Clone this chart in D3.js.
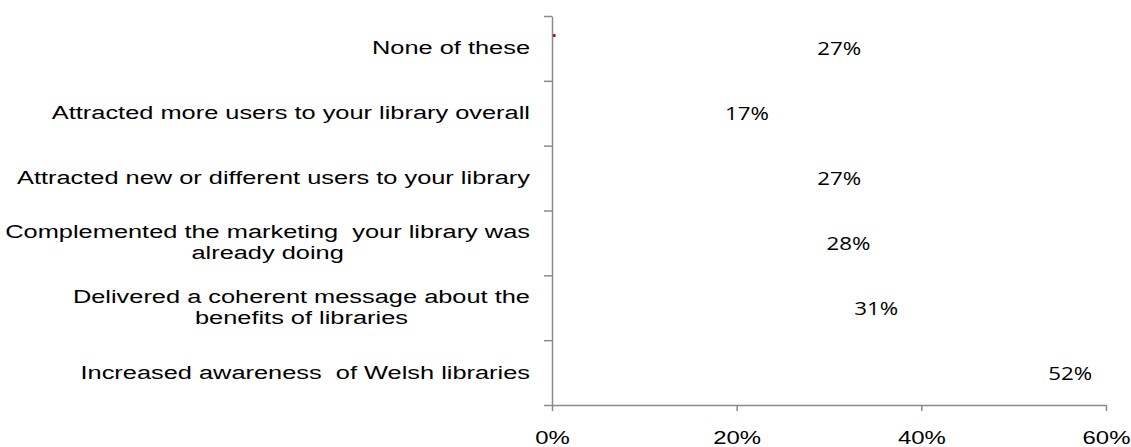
<!DOCTYPE html>
<html>
<head>
<meta charset="utf-8">
<script src="https://cdn.jsdelivr.net/npm/d3@7"></script>
<style>
  body { margin: 0; background: #fff; }
  svg { display: block; }
</style>
</head>
<body>
<div id="chart"></div>
<script>
// Categories top to bottom, each one may hold two lines
var categories = [
  ["None of these"],
  ["Attracted more users to your library overall"],
  ["Attracted new or different users to your library"],
  ["Complemented the marketing  your library was", "already doing"],
  ["Delivered a coherent message about the", "benefits of libraries"],
  ["Increased awareness  of Welsh libraries"]
];
var values = [27, 17, 27, 28, 31, 52];
var xTicks = [0, 20, 40, 60];

var width = 1131, height = 447;
// plot edges (note: "top" is taken by window.top, so use plot* names)
var plotLeft = 552, plotRight = 1106, plotTop = 16, plotBottom = 405;
var stretch = 1.41;   // text in the source is drawn wider than normal

var svg = d3.select("#chart").append("svg")
    .attr("width", width)
    .attr("height", height);

var x = d3.scaleLinear().domain([0, 60]).range([plotLeft, plotRight]);
var y = d3.scaleBand().domain(d3.range(categories.length)).range([plotTop, plotBottom]).padding(0);
// linear helper so the y axis ticks land on band edges
var yEdge = d3.scaleLinear().domain([0, categories.length]).range([plotBottom, plotTop]);

// bars (drawn without fill, as in the source)
svg.append("g").selectAll("rect")
  .data(values)
  .enter()
  .append("rect")
    .attr("x", x(0))
    .attr("y", function(d, i) { return y(i) + y.bandwidth() * 0.2; })
    .attr("width", function(d) { return x(d) - x(0); })
    .attr("height", y.bandwidth() * 0.6)
    .style("fill", "#ffffff")
    .style("fill-opacity", 0);

// small red mark near the top of the axis
svg.append("rect")
    .attr("x", x(0) + 1)
    .attr("y", y(0) + 18)
    .attr("width", 2.5)
    .attr("height", 3)
    .style("fill", "#c00000");

// y axis, ticks on the band edges
var yAxis = svg.append("g")
    .attr("transform", "translate(" + plotLeft + ",0)")
    .call(d3.axisLeft(yEdge).ticks(categories.length).tickSize(8).tickSizeOuter(0).tickFormat(""));

// x axis
var xAxis = svg.append("g")
    .attr("transform", "translate(0," + plotBottom + ")")
    .call(d3.axisBottom(x).tickValues(xTicks).tickSize(6).tickSizeOuter(0)
      .tickFormat(function(d) { return d + "%"; }));

[yAxis, xAxis].forEach(function(a) {
  a.select(".domain").style("stroke", "#8a8a8a").style("stroke-width", 1.5);
  a.selectAll(".tick line").style("stroke", "#8a8a8a").style("stroke-width", 1.5);
});

xAxis.selectAll(".tick text")
    .attr("y", 0)
    .attr("dy", 0)
    .attr("transform", "translate(0,39) scale(1.33,1)")
    .style("font-family", "'Liberation Sans', Arial, sans-serif")
    .style("font-size", "18px")
    .style("fill", "#000");

// category labels, right aligned block, lines centred on each other
var labelRight = 530, lineH = 21;
var cats = svg.append("g").selectAll("g")
  .data(categories)
  .enter()
  .append("g")
    .attr("transform", function(d, i) {
      return "translate(0," + (y(i) + y.bandwidth() / 2) + ")";
    });

cats.each(function(lines) {
  var g = d3.select(this);
  var inner = g.append("g");
  var t = inner.selectAll("text")
    .data(lines)
    .enter()
    .append("text")
      .attr("y", function(d, j) { return (j - (lines.length - 1) / 2) * lineH + 6; })
      .attr("text-anchor", "middle")
      .style("font-family", "'Liberation Sans', Arial, sans-serif")
      .style("font-size", "18px")
      .style("fill", "#000")
      .style("white-space", "pre")
      .text(function(d) { return d; });
  var w = d3.max(t.nodes(), function(n) { return n.getComputedTextLength(); });
  inner.attr("transform", "translate(" + (labelRight - w * stretch / 2) + ",0) scale(" + stretch + ",1)");
});

// value labels beside where the bar ends
svg.append("g").selectAll("g")
  .data(values)
  .enter()
  .append("g")
    .attr("transform", function(d, i) {
      return "translate(" + (x(d) + 38) + "," + (y(i) + y.bandwidth() / 2 + 7) + ") scale(1.24,1)";
    })
  .append("text")
    .attr("text-anchor", "middle")
    .style("font-family", "'Open Sans', sans-serif")
    .style("font-size", "18px")
    .style("fill", "#000")
    .text(function(d) { return d + "%"; });
</script>
</body>
</html>
